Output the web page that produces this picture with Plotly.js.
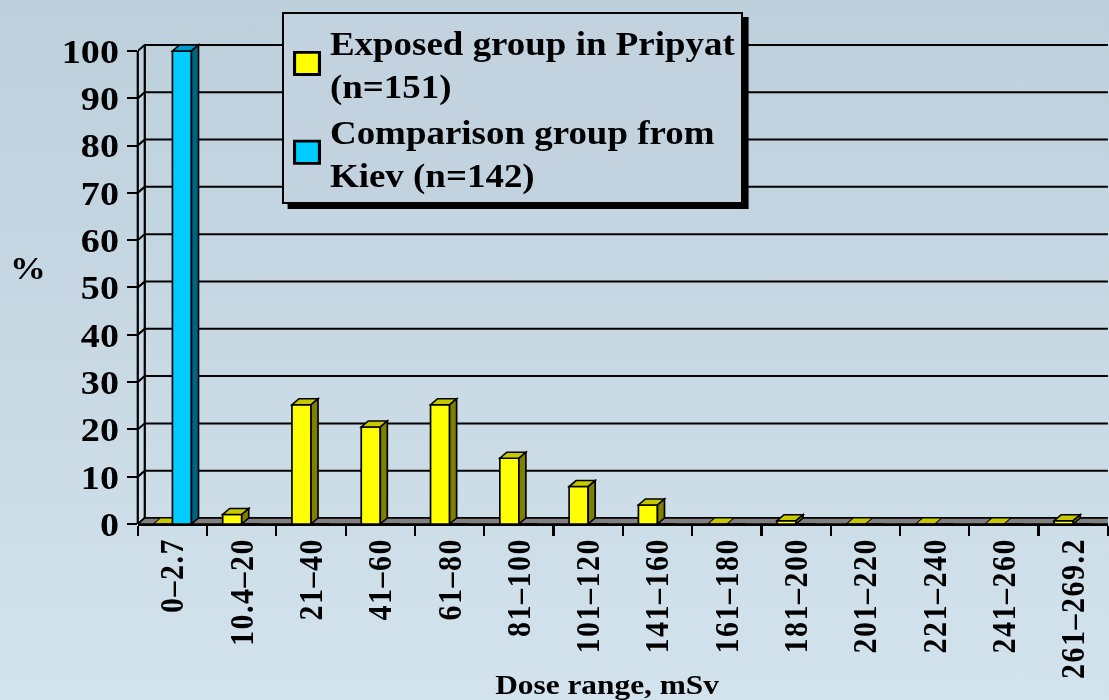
<!DOCTYPE html>
<html>
<head>
<meta charset="utf-8">
<script src="https://cdn.plot.ly/plotly-3.0.1.min.js"></script>
<style>
  html, body { margin: 0; padding: 0; overflow: hidden; }
  body { width: 1109px; height: 700px; background: linear-gradient(to bottom, #bccfdb 0%, #c8d9e4 50%, #d3e3ee 100%); }
  #chart { width: 990px; height: 700px; transform-origin: 0 0; }
  .legend .bg { filter: drop-shadow(5px 5px 0 #000); }
  .legendpoints path { transform: translate(20.5px, 0) scale(1.85); }
  .xtick text { letter-spacing: 1.5px; }
</style>
</head>
<body>
<div id="chart"></div>
<script>
// ---- data ----
const categories = ["0\u20132.7", "10.4\u201320", "21\u201340", "41\u201360", "61\u201380", "81\u2013100",
  "101\u2013120", "141\u2013160", "161\u2013180", "181\u2013200", "201\u2013220", "221\u2013240",
  "241\u2013260", "261\u2013269.2"];
const exposedPripyat = [0, 2.0, 25.2, 20.5, 25.2, 13.9, 7.9, 4.0, 0, 0.7, 0, 0, 0, 0.7];
const comparisonKiev = [100, 0, 0, 0, 0, 0, 0, 0, 0, 0, 0, 0, 0, 0];
const yTickValues = [0, 10, 20, 30, 40, 50, 60, 70, 80, 90, 100];
const seriesNames = ["Exposed group in Pripyat<br>(n=151)", "Comparison group from<br>Kiev (n=142)"];
const xTitle = "Dose range, mSv";
const yTitle = "%";

// ---- style / geometry ----
const OUT_W = 1109, H = 700;
const W = 990;                       // drawing width, stretched horizontally to OUT_W
const S = OUT_W / W;
document.getElementById("chart").style.transform = `scaleX(${S})`;
const M = {l: 138 / S, r: 1 / S, t: 40, b: 176};
const Y_MAX = 102.3;
const BAR_W = 0.275;
const plotW = W - M.l - M.r, plotH = H - M.t - M.b;
const pxPerCat = plotW / categories.length;
const pxPerUnit = plotH / Y_MAX;
const DX = (7 / S) / pxPerCat;       // depth offset (category units)
const DY = 6 / pxPerUnit;            // depth offset (value units)
const font = {family: "Liberation Serif, 'Times New Roman', serif", color: "#000", weight: 700};
const yellow = {front: "#ffff00", top: "#c8c800", side: "#808000"};
const cyan = {front: "#00ccff", top: "#0099cc", side: "#006680"};

const shapes = [];
const xLeft = -0.5, xRight = categories.length - 0.5;
// back wall grid lines + left wall diagonals
yTickValues.forEach(v => {
  shapes.push({type: "path", layer: "below", xref: "x", yref: "y",
    path: `M ${xLeft},${v} L ${xLeft + DX},${v + DY} L ${xRight + DX},${v + DY}`,
    line: {color: "#000", width: 2}});
});
// back wall left edge
shapes.push({type: "line", layer: "below", xref: "x", yref: "y",
  x0: xLeft + DX, x1: xLeft + DX, y0: DY, y1: yTickValues[yTickValues.length - 1] + DY,
  line: {color: "#000", width: 2}});
// floor
shapes.push({type: "path", layer: "below", xref: "x", yref: "y",
  path: `M ${xLeft},0 L ${xRight},0 L ${xRight + DX},${DY} L ${xLeft + DX},${DY} Z`,
  fillcolor: "#808080", line: {color: "#000", width: 1.5}});
// front y axis line
shapes.push({type: "line", layer: "above", xref: "paper", yref: "y",
  x0: 0, x1: 0, y0: 0, y1: yTickValues[yTickValues.length - 1],
  line: {color: "#000", width: 2}});

function addFaces(values, offset, col, drawZero) {
  values.forEach((v, i) => {
    const xl = i + offset, xr = i + offset + BAR_W;
    if (v > 0) {
      shapes.push({type: "path", layer: "above", xref: "x", yref: "y",
        path: `M ${xl},${v} L ${xr},${v} L ${xr + DX},${v + DY} L ${xl + DX},${v + DY} Z`,
        fillcolor: col.top, line: {color: "#000", width: 1.5}});
      shapes.push({type: "path", layer: "above", xref: "x", yref: "y",
        path: `M ${xr},0 L ${xr},${v} L ${xr + DX},${v + DY} L ${xr + DX},${DY} Z`,
        fillcolor: col.side, line: {color: "#000", width: 1.5}});
    } else if (drawZero) {
      shapes.push({type: "path", layer: "below", xref: "x", yref: "y",
        path: `M ${xl},0 L ${xr},0 L ${xr + DX},${DY} L ${xl + DX},${DY} Z`,
        fillcolor: col.top, line: {color: "#000", width: 1}});
    }
  });
}
addFaces(exposedPripyat, -BAR_W, yellow, true);
addFaces(comparisonKiev, 0, cyan, false);

const traces = [
  {type: "bar", name: seriesNames[0], x: categories, y: exposedPripyat,
   offset: -BAR_W, width: BAR_W,
   marker: {color: yellow.front, line: {color: "#000", width: 1.5}}, hoverinfo: "x+y"},
  {type: "bar", name: seriesNames[1], x: categories, y: comparisonKiev,
   offset: 0, width: BAR_W,
   marker: {color: cyan.front, line: {color: "#000", width: 1.5}}, hoverinfo: "x+y"}
];

const layout = {
  width: W, height: H,
  margin: M,
  paper_bgcolor: "rgba(0,0,0,0)",
  plot_bgcolor: "rgba(0,0,0,0)",
  barmode: "group",
  font: font,
  showlegend: true,
  legend: {
    x: (282 / S - M.l) / plotW, y: (H - M.b - 12) / plotH, xanchor: "left", yanchor: "top",
    bgcolor: "#c2d3df", bordercolor: "#000", borderwidth: 2,
    font: Object.assign({}, font, {size: 33}),
    tracegroupgap: 6, itemwidth: 31
  },
  xaxis: {
    type: "category", categoryorder: "array", categoryarray: categories,
    range: [xLeft, xRight], fixedrange: true,
    tickson: "boundaries", ticks: "outside", ticklen: 10, tickwidth: 2, tickcolor: "#000",
    tickangle: -90, tickfont: Object.assign({}, font, {size: 30}),
    showgrid: false, zeroline: false, showline: true, linecolor: "#000", linewidth: 2,
    automargin: false
  },
  yaxis: {
    range: [0, Y_MAX], fixedrange: true,
    tickmode: "array", tickvals: yTickValues, ticktext: yTickValues.map(String),
    ticks: "outside", ticklen: 9, tickwidth: 2, tickcolor: "#000",
    tickfont: Object.assign({}, font, {size: 34}),
    showgrid: false, zeroline: false, showline: false,
    automargin: false
  },
  shapes: shapes,
  annotations: [
    {text: yTitle, xref: "paper", yref: "paper",
     x: (28 / S - M.l) / plotW, y: (H - M.b - 268) / plotH,
     xanchor: "center", yanchor: "middle",
     showarrow: false, font: Object.assign({}, font, {size: 32})},
    {text: xTitle, xref: "paper", yref: "paper",
     x: (607 / S - M.l) / plotW, y: (H - M.b - 684) / plotH,
     xanchor: "center", yanchor: "middle",
     showarrow: false, font: Object.assign({}, font, {size: 28})}
  ]
};

Plotly.newPlot("chart", traces, layout, {displayModeBar: false, staticPlot: true});
</script>
</body>
</html>
